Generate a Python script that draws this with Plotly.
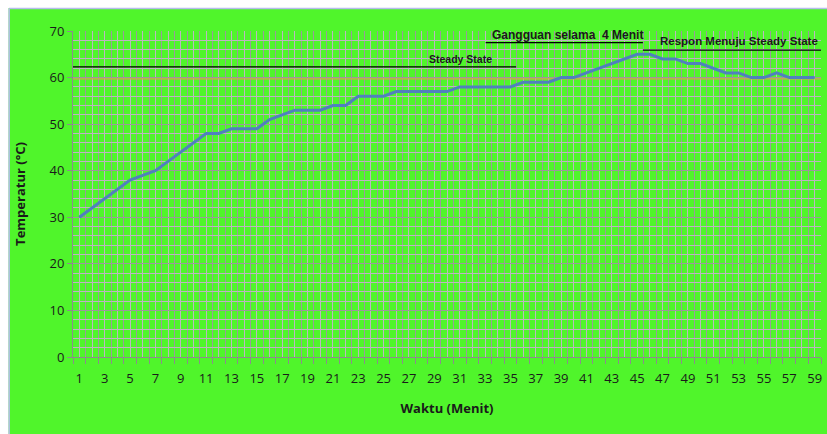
import plotly.graph_objects as go

# ---- data ----
menit = list(range(1, 60))
temperatur = [30, 32, 34, 36, 38, 39, 40, 42, 44, 46,
              48, 48, 49, 49, 49, 51, 52, 53, 53, 53,
              54, 54, 56, 56, 56, 57, 57, 57, 57, 57,
              58, 58, 58, 58, 58, 59, 59, 59, 60, 60,
              61, 62, 63, 64, 65, 65, 64, 64, 63, 63,
              62, 61, 61, 60, 60, 61, 60, 60, 60]
setpoint = 59.7
y_ticks = [0, 10, 20, 30, 40, 50, 60, 70]
x_tick_labels = [str(v) if v % 2 == 1 else "" for v in menit]

# annotation markers (in data units)
steady_level = 62.3
steady_x = [0.5, 35.45]
gangguan_level = 67.5
gangguan_x = [33.05, 45.45]
respon_level = 65.9
respon_x = [45.45, 59.5]

GREEN = "#50F52B"
DARK_GRID = "#9A9A9A"
LIGHT_GRID = "#BDB6C0"
W, H = 827, 434
L, R, T, B = 72.5, 5.5, 31, 77
PW, PH = W - L - R, H - T - B

def px_x(s):
    return (s - L) / PW

def px_y(s):
    return (H - B - s) / PH

fig = go.Figure()

fig.add_trace(go.Scatter(
    x=menit, y=temperatur, mode="lines",
    line=dict(color="#4F81BD", width=3),
    showlegend=False, hoverinfo="skip"))

shapes = []
# white outer strips (left & top) and chart border
shapes.append(dict(type="rect", xref="paper", yref="paper",
                   x0=px_x(-2), x1=px_x(8), y0=px_y(440), y1=px_y(-2),
                   fillcolor="white", line=dict(width=0), layer="below"))
shapes.append(dict(type="rect", xref="paper", yref="paper",
                   x0=px_x(-2), x1=px_x(840), y0=px_y(8), y1=px_y(-2),
                   fillcolor="white", line=dict(width=0), layer="below"))
shapes.append(dict(type="line", xref="paper", yref="paper",
                   x0=px_x(8.6), x1=px_x(8.6), y0=px_y(450), y1=px_y(8.6),
                   line=dict(color="#B4BCEA", width=1.5)))
shapes.append(dict(type="line", xref="paper", yref="paper",
                   x0=px_x(8.6), x1=px_x(840), y0=px_y(8.6), y1=px_y(8.6),
                   line=dict(color="#B4BCEA", width=1.5)))
# setpoint line
shapes.append(dict(type="line", xref="x", yref="y",
                   x0=0.5, x1=59.5, y0=setpoint, y1=setpoint,
                   line=dict(color="#D8A050", width=1.2), layer="between"))
# black reference lines
for xs, lv in [(steady_x, steady_level), (gangguan_x, gangguan_level), (respon_x, respon_level)]:
    shapes.append(dict(type="line", xref="x", yref="y",
                       x0=xs[0], x1=xs[1], y0=lv, y1=lv,
                       line=dict(color="black", width=1.3)))

annots = [
    dict(x=px_x(461), y=px_y(59), text="<b>Steady State</b>", font_size=10.5),
    dict(x=px_x(568), y=px_y(35), text="<b>Gangguan selama  4 Menit</b>", font_size=12),
    dict(x=px_x(739), y=px_y(41), text="<b>Respon Menuju Steady State</b>", font_size=11.5),
]
for a in annots:
    fig.add_annotation(xref="paper", yref="paper", x=a["x"], y=a["y"],
                       text=a["text"], showarrow=False,
                       font=dict(family="Liberation Sans", size=a["font_size"], color="#1A1A1A"),
                       xanchor="center", yanchor="middle")

fig.update_layout(
    width=W, height=H,
    margin=dict(l=L, r=R, t=T, b=B),
    paper_bgcolor=GREEN, plot_bgcolor=GREEN,
    shapes=shapes, hovermode=False,
    font=dict(family="Open Sans", color="#1A1A1A"),
    xaxis=dict(
        range=[0.5, 59.5], tickmode="array", tickvals=menit, ticktext=x_tick_labels,
        ticks="", showgrid=True, gridcolor=LIGHT_GRID, gridwidth=1,
        ticklabelstandoff=9,
        showline=True, linecolor="#8C8C8C", linewidth=1,
        tickfont=dict(family="Open Sans", size=13, color="#1A1A1A"),
        minor=dict(tick0=0.5, dtick=1, showgrid=True, gridcolor=DARK_GRID, gridwidth=1,
                   ticks="outside", ticklen=6, tickcolor="#8C8C8C"),
        title=dict(text="<b>Waktu (Menit)</b>", font=dict(family="Open Sans", size=13), standoff=18),
        zeroline=False,
    ),
    yaxis=dict(
        range=[0, 70], tickmode="array", tickvals=y_ticks,
        ticks="outside", ticklen=5, tickcolor="#8C8C8C",
        showgrid=True, gridcolor=DARK_GRID, gridwidth=1,
        showline=True, linecolor="#8C8C8C", linewidth=1,
        tickfont=dict(family="Open Sans", size=13, color="#1A1A1A"),
        minor=dict(dtick=2, showgrid=True, gridcolor=LIGHT_GRID, gridwidth=1),
        title=dict(text="<b>Temperatur (°C)</b>", font=dict(family="Open Sans", size=13), standoff=20),
        zeroline=False,
    ),
)

fig.write_html("out.html", config={"displayModeBar": False},
               post_script="document.body.style.margin='0';")
